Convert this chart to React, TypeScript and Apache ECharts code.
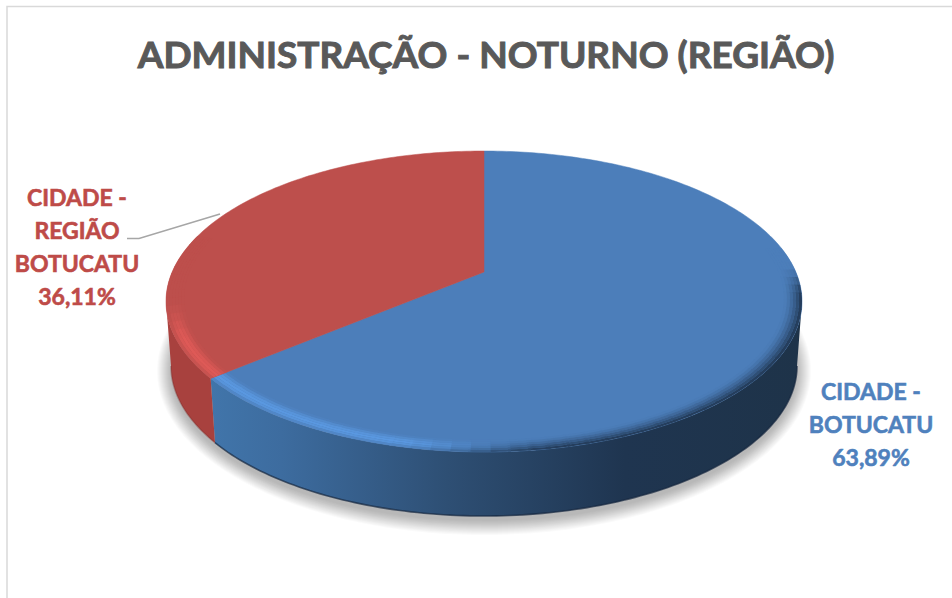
import React, { useEffect, useRef } from "react";
import * as echarts from "echarts";

const titleText = "ADMINISTRAÇÃO - NOTURNO (REGIÃO)";
const categories = ["CIDADE - BOTUCATU", "CIDADE - REGIÃO BOTUCATU"];
const labelLines = [
  ["CIDADE -", "BOTUCATU"],
  ["CIDADE -", "REGIÃO", "BOTUCATU"],
];
const values = [63.89, 36.11];
const faceColors = ["#4C7EBA", "#BD4F4C"];
const highlightColors = ["#5A98E0", "#DE5A57"];
const darkColors = ["#1F3550", "#8A3533"];
const labelColors = ["#4F81BD", "#BE4B48"];
const labelCenters = [[871, 391], [77, 197]];
const wallStops = [
  [
    [0.0, "#4175AA"],
    [0.12, "#3D6C9F"],
    [0.4, "#2E4F74"],
    [0.7, "#1F3550"],
    [1.0, "#1E3349"],
  ],
  [
    [0.0, "#B84C49"],
    [0.08, "#A8413E"],
    [1.0, "#A8413E"],
  ],
];

const top = { cx: 484, cy: 301.5, rx: 318, ry: 150.5 };
const bottom = { cx: 484, cy: 366, rx: 313, ry: 150 };
const apexY = 272;
const k = (apexY - top.cy) / top.ry;
const wallLeft = 166;
const wallRight = 802;

// Perspective projection of a point of the pie disc; angle is clockwise from 12 o'clock.
function project(e: typeof top, deg: number, r = 1): number[] {
  const a = (deg * Math.PI) / 180;
  const u = r * Math.sin(a);
  const v = -r * Math.cos(a);
  const d = 1 + k * v;
  return [e.cx + (e.rx * u * Math.sqrt(1 - k * k)) / d, e.cy + (e.ry * (v + k)) / d];
}

function sliceRange(i: number): number[] {
  const total = values.reduce((s, v) => s + v, 0);
  const before = values.slice(0, i).reduce((s, v) => s + v, 0);
  return [(before / total) * 360, ((before + values[i]) / total) * 360];
}

function arcPoints(e: typeof top, from: number, to: number, r = 1): number[][] {
  const n = Math.max(2, Math.ceil(Math.abs(to - from)));
  const pts: number[][] = [];
  for (let j = 0; j <= n; j++) pts.push(project(e, from + ((to - from) * j) / n, r));
  return pts;
}

function hex(c: string): number[] {
  return [1, 3, 5].map((p) => parseInt(c.slice(p, p + 2), 16));
}
function mixRgb(a: number[], b: number[], t: number): number[] {
  return a.map((x, n) => x + (b[n] - x) * t);
}
function smooth(a: number, b: number, x: number): number {
  const t = Math.min(1, Math.max(0, (x - a) / (b - a)));
  return t * t * (3 - 2 * t);
}

// angle at which the projected rim reaches its widest x (the silhouette of the wall)
const silhouette = (Math.acos(k) * 180) / Math.PI;

// soft shadow under the pie: a stack of faint ellipses, widest first
function renderShadow(params: any) {
  if (params.dataIndex !== 0) return { type: "group", children: [] };
  const layers = 14;
  const children: any[] = [];
  for (let n = layers; n >= 0; n--) {
    children.push({
      type: "ellipse",
      shape: { cx: bottom.cx, cy: bottom.cy + 5, rx: bottom.rx + n, ry: bottom.ry + n },
      style: { fill: "rgba(0,0,0,0.018)" },
      silent: true,
    });
  }
  return { type: "group", children };
}

function renderWall(params: any) {
  const i = params.dataIndex;
  const [s, e] = sliceRange(i);
  const from = Math.max(s, silhouette);
  const to = Math.min(e, 360 - silhouette);
  if (to <= from) return { type: "group", children: [] };
  const upper = arcPoints(top, from, to);
  const lower = arcPoints(bottom, from, to);
  const x0 = i === 0 ? project(top, e)[0] : wallLeft;
  const x1 = i === 0 ? wallRight : project(top, s)[0];
  return {
    type: "group",
    children: [
      {
        type: "polygon",
        shape: { points: upper.concat(lower.slice().reverse()) },
        silent: true,
        style: {
          fill: {
            type: "linear",
            global: true,
            x: x0,
            y: 0,
            x2: x1,
            y2: 0,
            colorStops: wallStops[i].map(([offset, color]) => ({ offset, color })),
          },
        },
      },
      {
        type: "polyline",
        shape: { points: lower },
        silent: true,
        style: { fill: "none", stroke: i === 0 ? "rgba(22,38,62,0.7)" : "rgba(120,40,38,0.35)", lineWidth: 1.6 },
      },
    ],
  };
}

function renderTop(params: any) {
  const i = params.dataIndex;
  const [s, e] = sliceRange(i);
  const children: any[] = [
    {
      type: "polygon",
      shape: { points: [project(top, 0, 0)].concat(arcPoints(top, s, e)) },
      silent: true,
      style: { fill: faceColors[i], stroke: faceColors[i], lineWidth: 0.5 },
    },
  ];
  // bevel along the front of the rim
  const bands = 6;
  const inner = 0.945;
  const step = 3;
  const from = Math.max(s, 80);
  const to = Math.min(e, 285);
  const f = hex(faceColors[i]);
  const hi = hex(highlightColors[i]);
  const lo = hex(darkColors[i]);
  for (let a = from; a < to; a += step) {
    const aEnd = Math.min(a + step, to);
    const mid = (a + aEnd) / 2;
    const p = project(top, mid);
    const xn = p[0];
    const yn = (p[1] - top.cy) / top.ry;
    const toDark = smooth(390, 560, xn);
    const frontFade = xn > 480 ? smooth(-0.25, -0.02, yn) : smooth(-0.02, 0.28, yn);
    for (let b = 0; b < bands; b++) {
      const r0 = inner + ((1 - inner) * b) / bands;
      const r1 = inner + ((1 - inner) * (b + 1)) / bands;
      const t = (b + 0.5) / bands;
      const light = mixRgb(f, hi, Math.sin(Math.PI * Math.pow(t, 1.3)));
      const dark = mixRgb(f, lo, Math.pow(t, 1.5));
      const c = mixRgb(light, dark, toDark);
      const out = mixRgb(f, c, frontFade).map(Math.round);
      const edge = Math.min(aEnd + 0.4, to);
      children.push({
        type: "polygon",
        shape: { points: arcPoints(top, a, edge, r1).concat(arcPoints(top, a, edge, r0).reverse()) },
        silent: true,
        style: { fill: `rgb(${out[0]},${out[1]},${out[2]})` },
      });
    }
  }
  return { type: "group", children };
}

function renderLabel(params: any) {
  const i = params.dataIndex;
  const percent = values[i].toFixed(2).replace(".", ",") + "%";
  const lines = labelLines[i].concat(percent);
  return {
    type: "text",
    x: labelCenters[i][0],
    y: labelCenters[i][1] - 16.5,
    silent: true,
    style: {
      text: lines.join("\n"),
      fill: labelColors[i],
      font: "bold 23px Lato",
      lineHeight: 33,
      align: "center",
      verticalAlign: "top",
      stroke: labelColors[i],
      lineWidth: 0.6,
    },
  };
}

export default function App() {
  const ref = useRef<HTMLDivElement>(null);
  useEffect(() => {
    const chart = echarts.init(ref.current as HTMLDivElement, null, { renderer: "svg" });
    const data = categories.map((name, n) => ({ name, value: values[n] }));
    const custom = (renderItem: any, z: number) => ({
      type: "custom",
      coordinateSystem: "none",
      data,
      renderItem,
      z,
      silent: true,
      clip: false,
    });
    chart.setOption({
      animation: false,
      backgroundColor: "#ffffff",
      title: {
        text: titleText,
        left: 481,
        top: 30,
        textAlign: "center",
        textStyle: {
          color: "#595959",
          fontFamily: "Lato",
          fontWeight: "bold",
          fontSize: 37,
          textBorderColor: "#595959",
          textBorderWidth: 1,
        },
      },
      graphic: [
        {
          type: "rect",
          shape: { x: 7, y: 6.5, width: 1100, height: 800 },
          style: { fill: "none", stroke: "#D9D9D9", lineWidth: 1.5 },
          silent: true,
        },
        {
          type: "polyline",
          shape: { points: [[127, 238.5], [139, 238.5], [220, 214]] },
          style: { fill: "none", stroke: "#A6A6A6", lineWidth: 1.5 },
          silent: true,
          z: 20,
        },
      ],
      series: [
        custom(renderShadow, 2),
        custom(renderWall, 3),
        custom(renderTop, 4),
        custom(renderLabel, 5),
      ],
    });
    return () => chart.dispose();
  }, []);
  return (
    <div
      ref={ref}
      style={{ position: "fixed", left: 0, top: 0, width: 952, height: 598, overflow: "hidden" }}
    />
  );
}
